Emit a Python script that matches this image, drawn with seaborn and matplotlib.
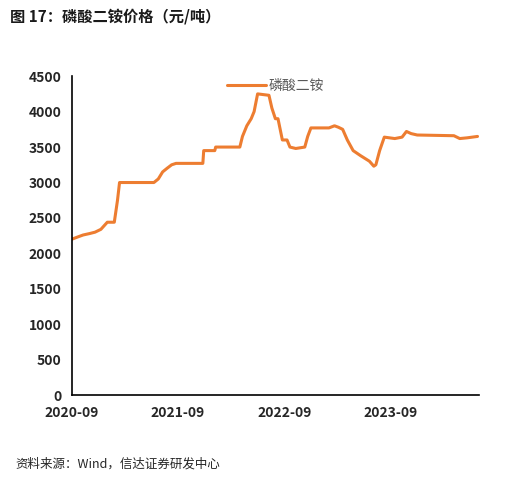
import matplotlib

matplotlib.use("Agg")

import matplotlib.dates as mdates
import matplotlib.pyplot as plt
import pandas as pd
import seaborn as sns

DATES = [
    "2020-09-01", "2020-09-20", "2020-10-10", "2020-11-01", "2020-11-20", "2020-12-10",
    "2021-01-01", "2021-01-25", "2021-02-05", "2021-02-12", "2021-06-10", "2021-06-25",
    "2021-07-10", "2021-07-25", "2021-08-10", "2021-08-25", "2021-11-25", "2021-11-28",
    "2022-01-05", "2022-01-08", "2022-04-01", "2022-04-10", "2022-04-25", "2022-05-10",
    "2022-05-20", "2022-06-01", "2022-07-10", "2022-07-20", "2022-08-01", "2022-08-10",
    "2022-08-25", "2022-09-10", "2022-09-20", "2022-10-10", "2022-11-10", "2022-11-20",
    "2022-12-01", "2023-02-01", "2023-02-20", "2023-03-05", "2023-03-20", "2023-04-05",
    "2023-04-25", "2023-05-20", "2023-06-20", "2023-07-05", "2023-07-12", "2023-07-25",
    "2023-08-10", "2023-09-15", "2023-10-10", "2023-10-25", "2023-11-10", "2023-12-01",
    "2024-04-05", "2024-04-25", "2024-05-20", "2024-06-25",
]
PRICES = [
    2200, 2230, 2260, 2280, 2300, 2340,
    2440, 2440, 2750, 3000, 3000, 3050,
    3150, 3200, 3250, 3270, 3270, 3450,
    3450, 3500, 3500, 3650, 3800, 3900,
    4000, 4250, 4230, 4050, 3900, 3900,
    3600, 3600, 3500, 3480, 3500, 3650,
    3770, 3770, 3800, 3780, 3750, 3600,
    3450, 3380, 3300, 3230, 3250, 3450,
    3640, 3620, 3640, 3720, 3690, 3670,
    3660, 3620, 3630, 3650,
]
LABEL = "磷酸二铵"

df = pd.DataFrame({"date": pd.to_datetime(DATES), "price": PRICES})

sns.set_style("white")
plt.rcParams["font.family"] = ["Noto Sans CJK SC", "DejaVu Sans"]

fig = plt.figure(figsize=(5.09, 4.82), dpi=100)
ax = fig.add_axes([0.141, 0.18, 0.80, 0.662])
sns.lineplot(data=df, x="date", y="price", color="#ED7D31", linewidth=2.2, label=LABEL, ax=ax)

ax.set_xlim(pd.Timestamp("2020-09-01"), pd.Timestamp("2024-06-30"))
ax.set_ylim(0, 4500)
ax.set_yticks(range(0, 4501, 500))
ax.set_xticks(pd.to_datetime(["2020-09-01", "2021-09-01", "2022-09-01", "2023-09-01"]))
ax.xaxis.set_major_formatter(mdates.DateFormatter("%Y-%m"))
ax.tick_params(axis="both", labelsize=10, direction="out", length=4, width=1, color="black")
for lab in ax.get_xticklabels() + ax.get_yticklabels():
    lab.set_fontweight("bold")
ax.set_xlabel("")
ax.set_ylabel("")
for side in ["top", "right"]:
    ax.spines[side].set_visible(False)
for side in ["left", "bottom"]:
    ax.spines[side].set_color("black")
    ax.spines[side].set_linewidth(1.2)

leg = ax.legend(loc="upper center", bbox_to_anchor=(0.5, 1.03), frameon=False, fontsize=10,
                handlelength=2.8, handletextpad=0.2)
for t in leg.get_texts():
    t.set_color("#595959")

fig.text(0.02, 0.955, "图 17：磷酸二铵价格（元/吨）", fontsize=11, fontweight="bold", color="#1a1a1a")
fig.text(0.03, 0.03, "资料来源：Wind，信达证券研发中心", fontsize=9, style="italic")

fig.savefig("out.png", dpi=100)
